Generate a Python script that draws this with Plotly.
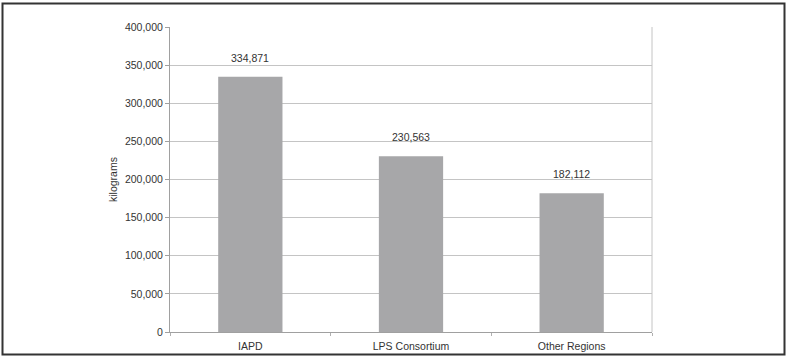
import plotly.graph_objects as go

categories = ["IAPD", "LPS Consortium", "Other Regions"]
values = [334871, 230563, 182112]
tick_vals = [0, 50000, 100000, 150000, 200000, 250000, 300000, 350000, 400000]
tick_text = ["0", "50,000", "100,000", "150,000", "200,000", "250,000", "300,000", "350,000", "400,000"]

FONT = "Liberation Sans, Arial, sans-serif"
TXT = "#333333"

fig = go.Figure()
fig.add_trace(go.Bar(
    x=categories, y=values, width=0.4,
    marker=dict(color="#a7a7a9", line=dict(width=0)),
    hoverinfo="skip",
))

for c, v in zip(categories, values):
    fig.add_annotation(x=c, y=v, text=f"{v:,}", showarrow=False,
                       yshift=19, font=dict(family=FONT, size=10.5, color=TXT))

fig.update_layout(
    width=787, height=358,
    margin=dict(l=170, r=135, t=27, b=26, autoexpand=False),
    paper_bgcolor="white", plot_bgcolor="white",
    showlegend=False,
    font=dict(family=FONT, size=10.5, color=TXT),
    xaxis=dict(
        type="category", showgrid=False, showline=True, linecolor="#a0a0a0", linewidth=1,
        ticks="outside", tickson="boundaries", ticklen=3, tickcolor="#b0b0b0",
        ticklabelstandoff=4, automargin=False,
        tickfont=dict(family=FONT, size=10.5, color=TXT),
    ),
    yaxis=dict(
        range=[0, 400000], tickvals=tick_vals, ticktext=tick_text,
        showgrid=True, gridcolor="#c4c4c4", gridwidth=1,
        showline=True, linecolor="#a0a0a0", linewidth=1,
        ticks="outside", ticklen=4, tickcolor="#a0a0a0",
        zeroline=False, automargin=False,
        title=dict(text="kilograms", font=dict(family=FONT, size=10.5, color=TXT), standoff=5),
        tickfont=dict(family=FONT, size=10.5, color=TXT),
    ),
    shapes=[
        dict(type="line", xref="paper", yref="paper", x0=1, x1=1, y0=0, y1=1,
             line=dict(color="#c4c4c4", width=1)),
        dict(type="rect", xref="paper", yref="paper",
             x0=(2.5 - 170) / 482, x1=(784.5 - 170) / 482,
             y0=(332 - 354.5) / 305, y1=(332 - 3.5) / 305,
             line=dict(color="#333333", width=2), fillcolor="rgba(0,0,0,0)", layer="above"),
    ],
)

fig.write_html("out.html")
